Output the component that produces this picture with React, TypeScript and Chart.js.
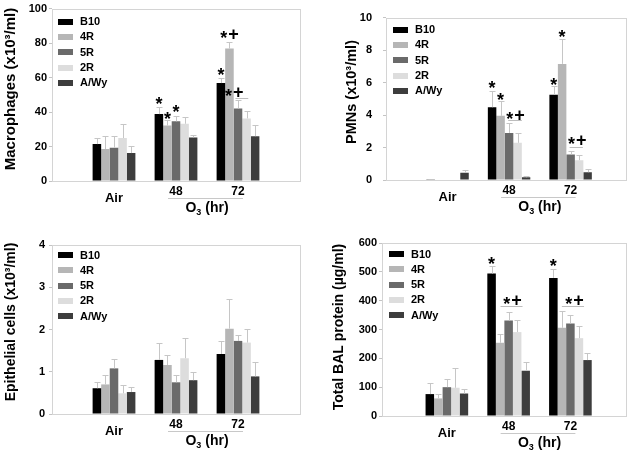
import React, { useEffect, useRef } from "react";
import { Chart, registerables } from "chart.js";
Chart.register(...registerables);

const FONT = "'Liberation Sans', Arial, Helvetica, sans-serif";

const strains = ["B10", "4R", "5R", "2R", "A/Wy"];
const groupLabels = ["Air", "48", "72"];
const groupX = [1, 2, 3];
const strainColors = ["#000000", "#b6b6b6", "#6a6a6a", "#dddddd", "#3d3d3d"];

// values per strain (rows) for [Air, 48 h, 72 h]
const macMean = [
  [21.4, 38.8, 56.8],
  [18.5, 32.2, 76.8],
  [19.3, 34.6, 42.1],
  [24.9, 33.2, 36.3],
  [16.2, 25.3, 26.0],
];
const macErr = [
  [3.3, 3.9, 3.0],
  [7.5, 3.1, 4.1],
  [6.7, 3.0, 4.8],
  [7.9, 3.8, 4.2],
  [4.1, 1.3, 6.4],
];
const macStars: [number, number, number, string][] = [
  [1, 0, 46.9, "*"], [1, 1, 38.2, "*"], [1, 2, 42.1, "*"],
  [2, 0, 63.7, "*"], [2, 1, 85.5, "*+"], [2, 1.55, 51.7, "*+"],
];
const macBrackets: [number, number, number, number][] = [[2, 1.7, 3.2, 47.9]];

const pmnMean = [
  [0.02, 4.48, 5.25],
  [0.0, 3.95, 7.15],
  [0.0, 2.9, 1.57],
  [0.0, 2.29, 1.22],
  [0.45, 0.17, 0.48],
];
const pmnErr = [
  [0.03, 1.02, 0.53],
  [0.0, 0.91, 1.55],
  [0.0, 0.6, 0.23],
  [0.0, 0.58, 0.31],
  [0.15, 0.08, 0.18],
];
const pmnStars: [number, number, number, string][] = [
  [1, 0, 5.9, "*"], [1, 1, 5.2, "*"], [1, 2.77, 4.03, "*+"],
  [2, 0, 6.12, "*"], [2, 1, 9.07, "*"], [2, 2.77, 2.48, "*+"],
];
const pmnBrackets: [number, number, number, number][] = [[1, 1.9, 3.5, 3.7], [2, 1.88, 3.44, 2.02]];

const epiMean = [
  [0.61, 1.28, 1.42],
  [0.7, 1.16, 2.02],
  [1.08, 0.75, 1.73],
  [0.49, 1.32, 1.69],
  [0.52, 0.8, 0.89],
];
const epiErr = [
  [0.15, 0.4, 0.31],
  [0.23, 0.24, 0.7],
  [0.23, 0.18, 0.13],
  [0.19, 0.47, 0.33],
  [0.11, 0.2, 0.35],
];
const epiStars: [number, number, number, string][] = [];
const epiBrackets: [number, number, number, number][] = [];

const balMean = [
  [76, 494, 479],
  [61, 254, 306],
  [100, 331, 321],
  [98, 291, 270],
  [78, 157, 194],
];
const balErr = [
  [37, 25, 32],
  [14, 29, 57],
  [30, 31, 31],
  [67, 41, 43],
  [15, 31, 26],
];
const balStars: [number, number, number, string][] = [
  [1, 0, 540, "*"], [1, 2.44, 401.5, "*+"],
  [2, 0, 534, "*"], [2, 2.48, 401.5, "*+"],
];
const balBrackets: [number, number, number, number][] = [[1, 1.05, 3.63, 381], [2, 1.0, 3.6, 381]];

type Panel = {
  key: string;
  title: string;
  mean: number[][];
  err: number[][];
  stars: [number, number, number, string][];
  brackets: [number, number, number, number][];
  yMax: number;
  yStep: number;
  box: [number, number, number, number];
  area: [number, number, number, number];
  xMin: number;
  xMax: number;
  tickPad: number;
  titlePos: [number, number];
  titleSize: number;
  legendOff: [number, number];
};

const panels: Panel[] = [
  {
    key: "mac", title: "Macrophages (x10\u00B3/ml)", mean: macMean, err: macErr, stars: macStars, brackets: macBrackets,
    yMax: 100, yStep: 20, box: [0, 0, 318, 227], area: [52, 8, 300, 181], xMin: 0, xMax: 4, tickPad: 2,
    titlePos: [11, 89], titleSize: 15, legendOff: [6, 13],
  },
  {
    key: "pmn", title: "PMNs (x10\u00B3/ml)", mean: pmnMean, err: pmnErr, stars: pmnStars, brackets: pmnBrackets,
    yMax: 10, yStep: 2, box: [318, 0, 319, 227], area: [386, 8, 626, 180], xMin: 0, xMax: 3.9, tickPad: 11,
    titlePos: [34, 92], titleSize: 14.5, legendOff: [7, 12],
  },
  {
    key: "epi", title: "Epithelial cells (x10\u00B3/ml)", mean: epiMean, err: epiErr, stars: epiStars, brackets: epiBrackets,
    yMax: 4, yStep: 1, box: [0, 227, 318, 228], area: [52, 245, 300, 414], xMin: 0, xMax: 4, tickPad: 4,
    titlePos: [11, 95], titleSize: 14, legendOff: [6, 10],
  },
  {
    key: "bal", title: "Total BAL protein (\u00B5g/ml)", mean: balMean, err: balErr, stars: balStars, brackets: balBrackets,
    yMax: 600, yStep: 100, box: [318, 227, 319, 228], area: [382, 243, 626, 416], xMin: -0.05, xMax: 3.9, tickPad: 2,
    titlePos: [21, 100], titleSize: 14, legendOff: [7, 11],
  },
];

function makeDecor(p: Panel) {
  return {
    id: "decor_" + p.key,
    afterDatasetsDraw(chart: any) {
      const ctx: CanvasRenderingContext2D = chart.ctx;
      const { left, top, right, bottom } = chart.chartArea;
      const xs = chart.scales.x;
      const ys = chart.scales.y;
      ctx.save();
      // frame
      ctx.strokeStyle = "#d4d4d4";
      ctx.lineWidth = 1;
      ctx.strokeRect(Math.round(left) + 0.5, Math.round(top) + 0.5, Math.round(right - left), Math.round(bottom - top));

      // error bars
      ctx.strokeStyle = "#c6c6c6";
      strains.forEach((_, si) => {
        const meta = chart.getDatasetMeta(si);
        meta.data.forEach((bar: any, gi: number) => {
          const e = p.err[si][gi];
          if (!e) return;
          const y0 = ys.getPixelForValue(p.mean[si][gi]);
          const y1 = ys.getPixelForValue(p.mean[si][gi] + e);
          const x = Math.round(bar.x) + 0.5;
          ctx.beginPath();
          ctx.moveTo(x, y0);
          ctx.lineTo(x, Math.round(y1) + 0.5);
          ctx.moveTo(x - 3, Math.round(y1) + 0.5);
          ctx.lineTo(x + 3, Math.round(y1) + 0.5);
          ctx.stroke();
        });
      });

      const barX = (g: number, pos: number) => {
        const i0 = Math.max(0, Math.min(strains.length - 2, Math.floor(pos)));
        const a = chart.getDatasetMeta(i0).data[g].x;
        const b = chart.getDatasetMeta(i0 + 1).data[g].x;
        return a + (b - a) * (pos - i0);
      };

      // significance marks: "*" and a raised "+"
      ctx.fillStyle = "#000";
      ctx.font = `bold 18px ${FONT}`;
      ctx.textAlign = "left";
      ctx.textBaseline = "alphabetic";
      p.stars.forEach(([g, pos, v, t]) => {
        const chars = t.split("");
        const gap = 1;
        const widths = chars.map((c) => ctx.measureText(c).width);
        const total = widths.reduce((a, b) => a + b, 0) + gap * (chars.length - 1);
        let sx = barX(g, pos) - total / 2;
        const base = ys.getPixelForValue(v) + 10;
        chars.forEach((c, i) => {
          ctx.fillText(c, sx, c === "+" ? base - 4 : base);
          sx += widths[i] + gap;
        });
      });
      ctx.strokeStyle = "#bdbdbd";
      p.brackets.forEach(([g, a, b, v]) => {
        const y = Math.round(ys.getPixelForValue(v)) + 0.5;
        ctx.beginPath();
        ctx.moveTo(barX(g, a), y);
        ctx.lineTo(barX(g, b), y);
        ctx.stroke();
      });

      // legend
      const [ldx, ldy] = p.legendOff;
      ctx.font = `bold 11px ${FONT}`;
      ctx.textAlign = "left";
      ctx.textBaseline = "middle";
      strains.forEach((s, i) => {
        const cy = top + ldy + i * 15.3;
        ctx.fillStyle = strainColors[i];
        ctx.fillRect(left + ldx, Math.round(cy - 3), 15, 6);
        ctx.fillStyle = "#000";
        ctx.fillText(s, left + ldx + 22, cy + 0.5);
      });

      // x labels
      const xa = xs.getPixelForValue(groupX[0]);
      const x48 = xs.getPixelForValue(groupX[1]);
      const x72 = xs.getPixelForValue(groupX[2]);
      ctx.textAlign = "center";
      ctx.textBaseline = "middle";
      ctx.fillStyle = "#000";
      ctx.font = `bold 13px ${FONT}`;
      ctx.fillText(groupLabels[0], xa, bottom + 17.5);
      ctx.font = `bold 12px ${FONT}`;
      ctx.fillText(groupLabels[1], x48, bottom + 11);
      ctx.fillText(groupLabels[2], x72, bottom + 11);
      ctx.strokeStyle = "#c8c8c8";
      ctx.beginPath();
      ctx.moveTo(x48 - 8, Math.round(bottom + 17) + 0.5);
      ctx.lineTo(x72 + 5, Math.round(bottom + 17) + 0.5);
      ctx.stroke();
      // O3 (hr)
      const big = `bold 14px ${FONT}`;
      const small = `bold 9px ${FONT}`;
      ctx.font = big;
      const wO = ctx.measureText("O").width;
      const wR = ctx.measureText(" (hr)").width;
      ctx.font = small;
      const w3 = ctx.measureText("3").width;
      let sx = (x48 + x72) / 2 - (wO + w3 + wR) / 2;
      const cy = bottom + 27;
      ctx.textAlign = "left";
      ctx.font = big;
      ctx.fillText("O", sx, cy);
      sx += wO;
      ctx.font = small;
      ctx.fillText("3", sx, cy + 5);
      sx += w3;
      ctx.font = big;
      ctx.fillText(" (hr)", sx, cy);

      // y title
      ctx.save();
      ctx.translate(p.titlePos[0], p.titlePos[1]);
      ctx.rotate(-Math.PI / 2);
      ctx.textAlign = "center";
      ctx.textBaseline = "middle";
      ctx.font = `bold ${p.titleSize}px ${FONT}`;
      ctx.fillText(p.title, 0, 0);
      ctx.restore();

      ctx.restore();
    },
  };
}

function PanelChart({ p }: { p: Panel }) {
  const ref = useRef<HTMLCanvasElement>(null);
  useEffect(() => {
    if (!ref.current) return;
    const [bx, by, bw, bh] = p.box;
    const [al, at, ar, ab] = p.area;
    const chart = new Chart(ref.current, {
      type: "bar",
      data: {
        datasets: strains.map((s, si) => ({
          label: s,
          data: groupX.map((x, gi) => ({ x, y: p.mean[si][gi] })),
          backgroundColor: strainColors[si],
          borderWidth: 0,
          categoryPercentage: 0.69,
          barPercentage: 1,
        })),
      },
      options: {
        responsive: false,
        maintainAspectRatio: false,
        devicePixelRatio: 1,
        animation: false,
        events: [],
        layout: { padding: { left: 0, top: at - by, right: bx + bw - ar, bottom: by + bh - ab } },
        plugins: { legend: { display: false }, tooltip: { enabled: false } },
        scales: {
          x: {
            type: "linear",
            display: false,
            offset: false,
            min: p.xMin,
            max: p.xMax,
            ticks: { stepSize: 1, includeBounds: false },
          },
          y: {
            type: "linear",
            min: 0,
            max: p.yMax,
            ticks: {
              stepSize: p.yStep,
              color: "#000",
              padding: p.tickPad,
              font: { family: FONT, size: 11, weight: "bold" },
            },
            grid: { drawOnChartArea: false, drawTicks: true, tickLength: 3, color: "#c4c4c4" },
            border: { display: false },
            afterFit: (s: any) => {
              s.width = al - bx;
            },
          },
        },
      } as any,
      plugins: [makeDecor(p)],
    });
    return () => chart.destroy();
  }, [p]);
  const [bx, by, bw, bh] = p.box;
  return (
    <canvas
      ref={ref}
      width={bw}
      height={bh}
      style={{ position: "absolute", left: bx, top: by, width: bw, height: bh }}
    />
  );
}

export default function App() {
  return (
    <div style={{ position: "absolute", left: 0, top: 0, width: 637, height: 455, background: "#fff" }}>
      {panels.map((p) => (
        <PanelChart key={p.key} p={p} />
      ))}
    </div>
  );
}
